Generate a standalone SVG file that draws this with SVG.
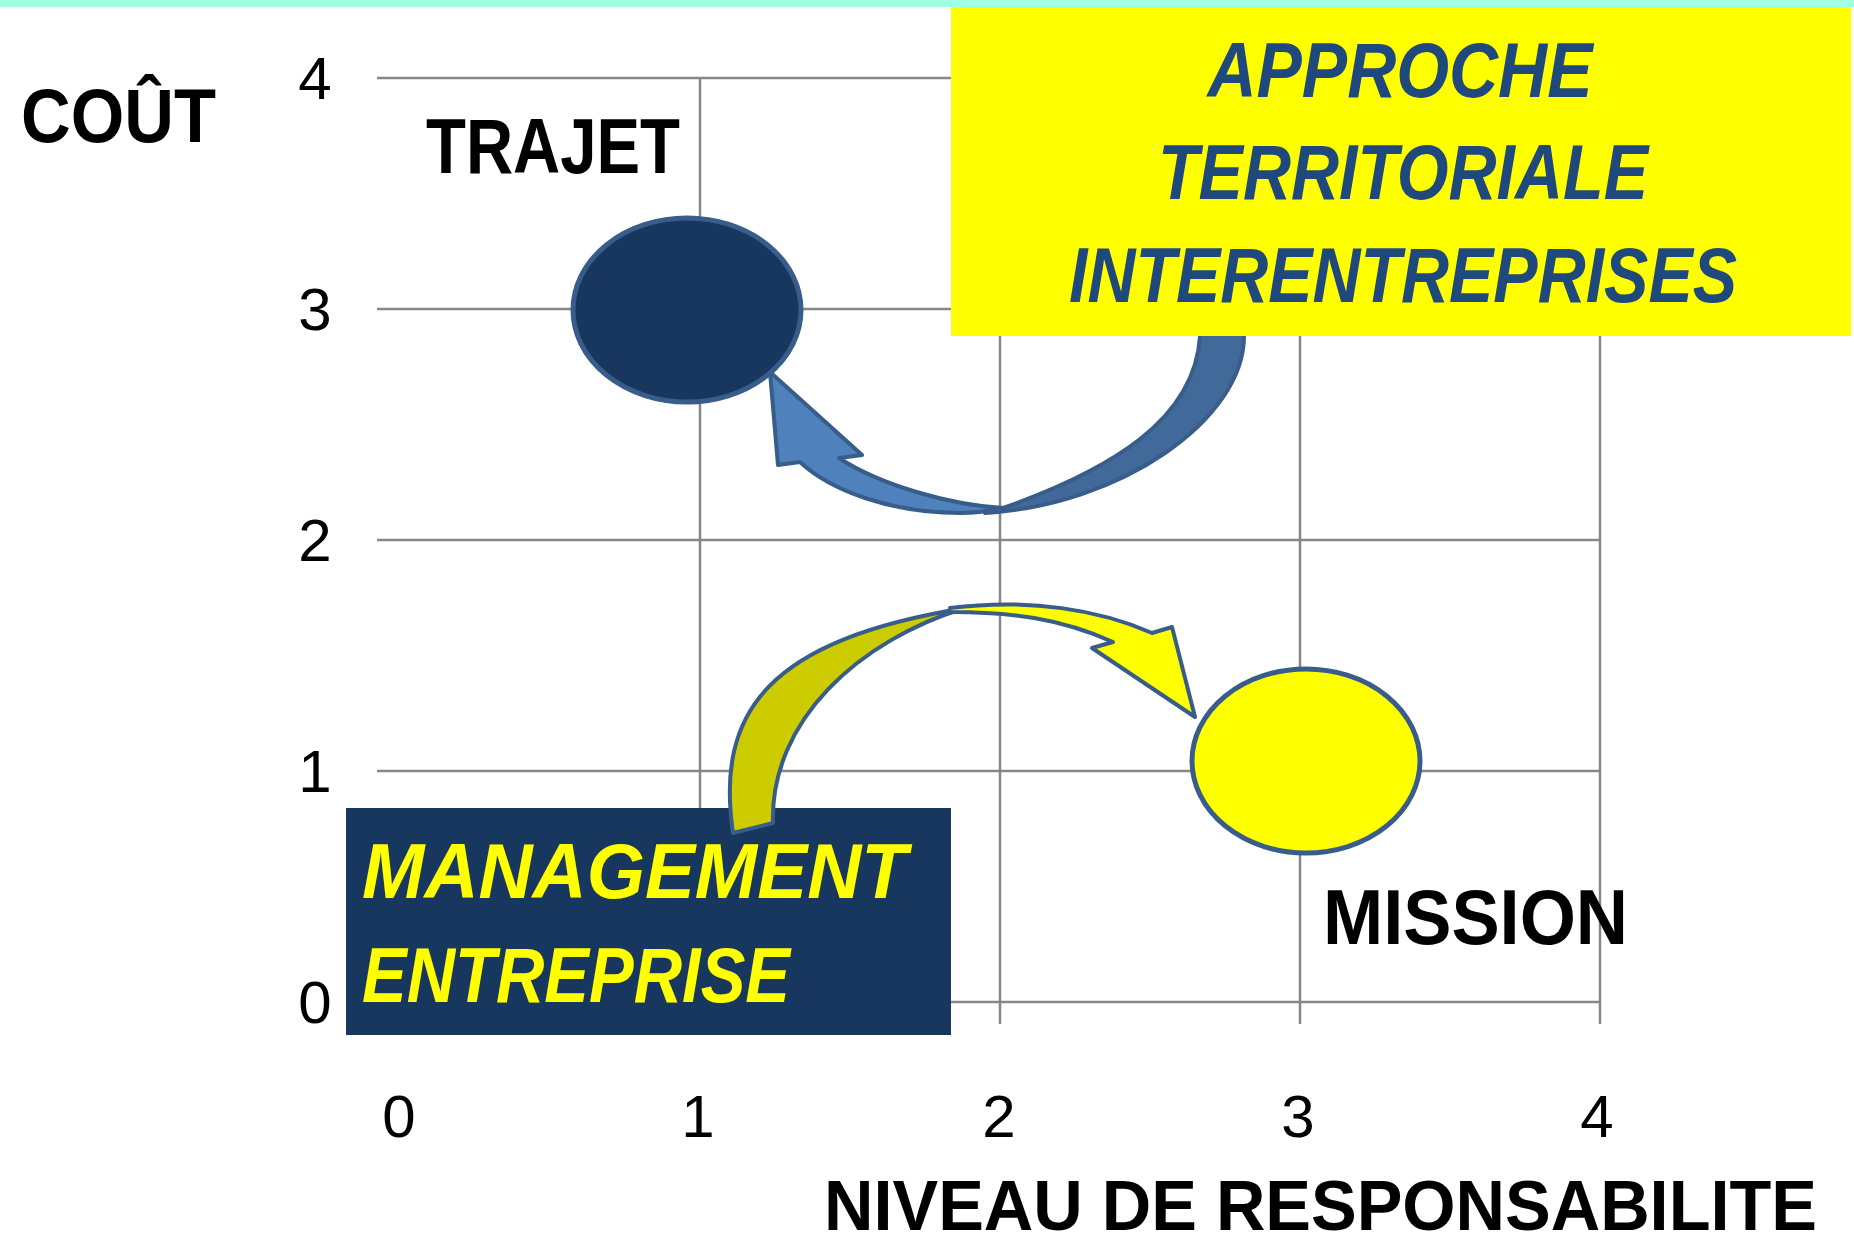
<svg xmlns="http://www.w3.org/2000/svg" width="1854" height="1247" viewBox="0 0 1854 1247">
<style>
.grid{stroke:#878787;stroke-width:2.5;fill:none}
.tick{font-family:"Liberation Sans",Arial,sans-serif;font-size:60px;fill:#000;text-anchor:middle}
.lbl{font-family:"Liberation Sans",Arial,sans-serif;font-weight:bold;fill:#000}
.bi{font-family:"Liberation Sans",Arial,sans-serif;font-weight:bold;font-style:italic}
.edge{stroke:#385d8a;stroke-width:4;stroke-linejoin:round}
.node{stroke:#385d8a;stroke-width:5}
</style>
<rect x="0" y="0" width="1854" height="1247" fill="#ffffff"/>
<rect x="0" y="0" width="1854" height="7" fill="#a0ffe0"/>
<g id="grid">
<line class="grid" x1="377" y1="78" x2="1600" y2="78"/>
<line class="grid" x1="377" y1="309" x2="1600" y2="309"/>
<line class="grid" x1="377" y1="540" x2="1600" y2="540"/>
<line class="grid" x1="377" y1="771" x2="1600" y2="771"/>
<line class="grid" x1="377" y1="1002" x2="1600" y2="1002"/>
<line class="grid" x1="700" y1="78" x2="700" y2="1024"/>
<line class="grid" x1="1000" y1="78" x2="1000" y2="1024"/>
<line class="grid" x1="1300" y1="78" x2="1300" y2="1024"/>
<line class="grid" x1="1600" y1="78" x2="1600" y2="1024"/>
</g>
<g id="axis-labels">
<text class="tick" x="315" y="99">4</text>
<text class="tick" x="315" y="330">3</text>
<text class="tick" x="315" y="561">2</text>
<text class="tick" x="315" y="792">1</text>
<text class="tick" x="315" y="1023">0</text>
<text class="tick" x="399" y="1137">0</text>
<text class="tick" x="698" y="1137">1</text>
<text class="tick" x="999" y="1137">2</text>
<text class="tick" x="1298" y="1137">3</text>
<text class="tick" x="1597" y="1137">4</text>
<text class="lbl" x="21" y="142" font-size="76" textLength="195" lengthAdjust="spacingAndGlyphs">COÛT</text>
<text class="lbl" x="824" y="1230" font-size="70" textLength="993" lengthAdjust="spacingAndGlyphs">NIVEAU DE RESPONSABILITE</text>
</g>
<g id="management">
<rect x="346" y="808" width="605" height="227" fill="#17375e"/>
<text class="bi" x="362" y="898" font-size="78" fill="#ffff00" textLength="545" lengthAdjust="spacingAndGlyphs">MANAGEMENT</text>
<text class="bi" x="362" y="1002" font-size="78" fill="#ffff00" textLength="428" lengthAdjust="spacingAndGlyphs">ENTREPRISE</text>
</g>
<g id="connectors">
<g id="arrow-blue">
<path class="edge" fill="#41699a" d="M1200,320 L1244,320 L1244,336 C1244,420 1120,505 985,513 L1003,508 C1110,470 1195,420 1200,336 Z"/>
<path class="edge" fill="#4f81bd" d="M770,372 L778,465 L800,462 C830,490 890,513 960,513 C975,513 990,511 1003,508 C950,505 880,485 839,458 L862,455 Z"/>
</g>
<g id="arrow-yellow">
<path class="edge" fill="#cccc00" d="M733,833 C715,710 770,640 965,608 C860,640 770,720 773,823 Z"/>
<path class="edge" fill="#ffff00" d="M950,608 C1030,598 1100,610 1152,633 L1172,627 L1195,717 L1092,648 L1113,642 C1060,618 1010,612 950,612 Z"/>
</g>
</g>
<g id="approche">
<rect x="951" y="7" width="900" height="329" fill="#ffff00"/>
<text class="bi" x="1400" y="97" font-size="78" fill="#1f497d" text-anchor="middle" textLength="385" lengthAdjust="spacingAndGlyphs">APPROCHE</text>
<text class="bi" x="1403" y="199" font-size="78" fill="#1f497d" text-anchor="middle" textLength="490" lengthAdjust="spacingAndGlyphs">TERRITORIALE</text>
<text class="bi" x="1403" y="302" font-size="78" fill="#1f497d" text-anchor="middle" textLength="668" lengthAdjust="spacingAndGlyphs">INTERENTREPRISES</text>
</g>
<g id="trajet">
<ellipse class="node" cx="687" cy="310" rx="114" ry="92" fill="#17375e"/>
<text class="lbl" x="426" y="173" font-size="77" textLength="254" lengthAdjust="spacingAndGlyphs">TRAJET</text>
</g>
<g id="mission">
<ellipse class="node" cx="1306" cy="761" rx="114" ry="92" fill="#ffff00"/>
<text class="lbl" x="1323" y="944" font-size="77" textLength="305" lengthAdjust="spacingAndGlyphs">MISSION</text>
</g>
</svg>
